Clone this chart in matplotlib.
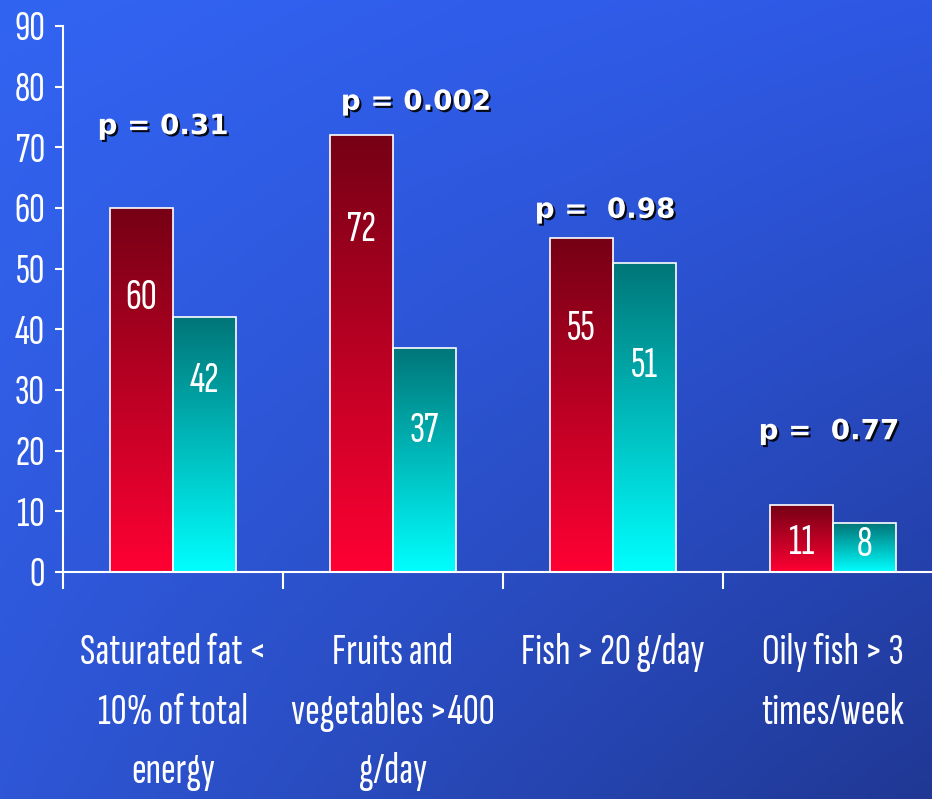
import numpy as np
import matplotlib
matplotlib.use('Agg')
import matplotlib.pyplot as plt
import matplotlib.patheffects as pe
from matplotlib import font_manager

# data
categories = ['Saturated fat <\n10% of total\nenergy',
              'Fruits and\nvegetables >400\ng/day',
              'Fish > 20 g/day',
              'Oily fish > 3\ntimes/week']
red_vals = [60, 72, 55, 11]
teal_vals = [42, 37, 51, 8]
p_texts = ['p = 0.31', 'p = 0.002', 'p =  0.98', 'p =  0.77']
yticks = [0, 10, 20, 30, 40, 50, 60, 70, 80, 90]

# label placement (data units)
red_lab_y = [45.2, 56.4, 40.2, 4.9]
teal_lab_y = [31.6, 23.4, 34.1, 4.5]
p_x = [0.455, 1.605, 2.464, 3.482]
p_y = [73.5, 77.5, 59.7, 23.2]

names = {f.name for f in font_manager.fontManager.ttflist}
narrow = 'DejaVu Sans'
for f in ['Sofia Sans Extra Condensed', 'Pathway Gothic One', 'Barlow Condensed']:
    if f in names:
        narrow = f
        break
cond = dict(family=[narrow, 'DejaVu Sans'], fontweight='semibold')

fig = plt.figure(figsize=(9.32, 7.99), dpi=100)

# background gradient
bg = fig.add_axes([0, 0, 1, 1], zorder=0)
tl = np.array([50, 100, 242]) / 255
tr = np.array([46, 88, 228]) / 255
bl = np.array([46, 86, 214]) / 255
br = np.array([32, 56, 148]) / 255
u = np.linspace(0, 1, 200)[None, :, None]
v = np.linspace(0, 1, 200)[:, None, None]
img = (1 - v) * ((1 - u) * tl + u * tr) + v * ((1 - u) * bl + u * br)
bg.imshow(img, aspect='auto', extent=[0, 1, 0, 1])
bg.axis('off')

ax = fig.add_axes([63 / 932, 227 / 799, 880 / 932, 546 / 799], zorder=1)
ax.patch.set_alpha(0)

w = 63 / 220


def grad_bar(x0, h, top, bottom):
    b = ax.bar(x0, h, w, align='edge', facecolor='none', edgecolor='white', linewidth=1.2, zorder=3)[0]
    g = np.linspace(0, 1, 256)[:, None, None]
    arr = (1 - g) * np.array(top) + g * np.array(bottom)
    im = ax.imshow(arr, aspect='auto', extent=[x0, x0 + w, 0, h], zorder=2)
    im.set_clip_path(b)


for i in range(4):
    c = i + 0.5
    grad_bar(c - w, red_vals[i], (0.46, 0.0, 0.08), (1.0, 0.0, 0.2))
    grad_bar(c, teal_vals[i], (0.0, 0.46, 0.47), (0.0, 1.0, 1.0))
    ax.text(c - w / 2, red_lab_y[i], str(red_vals[i]), color='white', fontsize=32,
            ha='center', va='center', zorder=4, **cond)
    ax.text(c + w / 2, teal_lab_y[i], str(teal_vals[i]), color='white', fontsize=32,
            ha='center', va='center', zorder=4, **cond)
    ax.text(p_x[i], p_y[i], p_texts[i], color='white', fontsize=20, fontweight='bold',
            family='DejaVu Sans', ha='center', va='center', zorder=4,
            path_effects=[pe.withSimplePatchShadow(offset=(1.5, -1.5), shadow_rgbFace='black', alpha=0.9)])

ax.set_xlim(0, 4)
ax.set_ylim(0, 90)

for s in ['top', 'right']:
    ax.spines[s].set_visible(False)
for s in ['left', 'bottom']:
    ax.spines[s].set_color('white')
    ax.spines[s].set_linewidth(1.5)

ax.set_yticks(yticks)
ax.set_yticklabels([str(t) for t in yticks], color='white', fontsize=31, **cond)
ax.tick_params(axis='y', colors='white', length=6, width=1.5, pad=7)

ax.set_xticks([0, 1, 2, 3])
ax.set_xticklabels([])
ax.tick_params(axis='x', which='major', colors='white', length=12, width=1.5, direction='out')
ax.set_xticks([0.5, 1.5, 2.5, 3.5], minor=True)
ax.set_xticklabels(categories, minor=True, color='white', fontsize=32, linespacing=1.66, **cond)
ax.tick_params(axis='x', which='minor', length=0, pad=44)

fig.savefig('out.png', dpi=100)
